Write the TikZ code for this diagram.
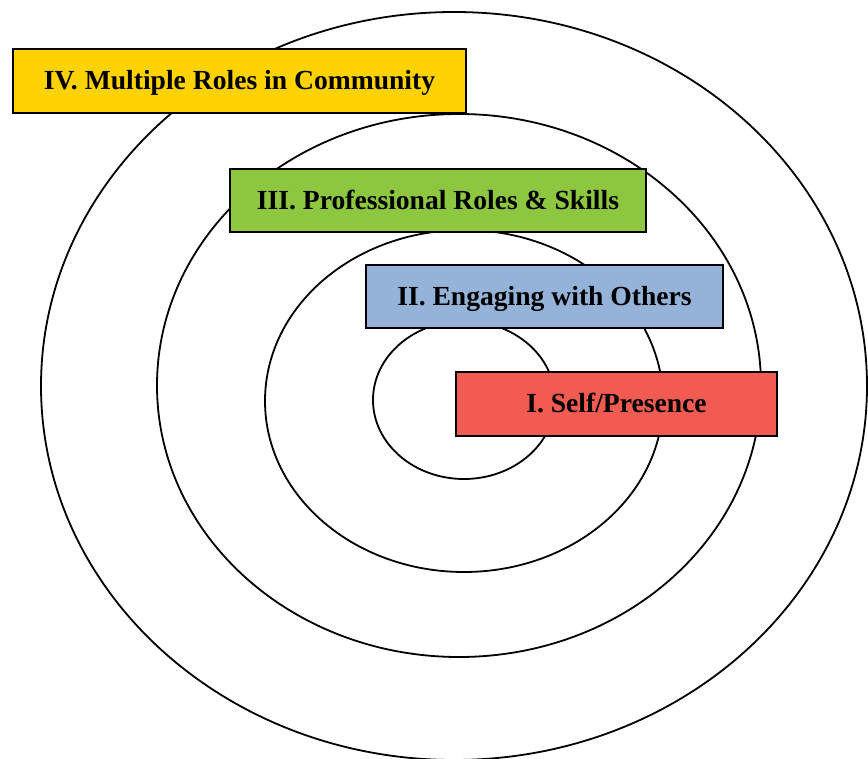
\documentclass[tikz,border=0pt]{standalone}
\usepackage{fontspec}
\setmainfont{Liberation Serif}
\usetikzlibrary{shapes.geometric}
\definecolor{boxyellow}{RGB}{255,210,0}
\definecolor{boxgreen}{RGB}{141,198,63}
\definecolor{boxblue}{RGB}{149,179,217}
\definecolor{boxred}{RGB}{241,91,81}
\tikzset{
  ring/.style={draw=black, line width=1.8pt, ellipse, inner sep=0pt},
  label box/.style={draw=black, line width=2pt, rectangle, inner sep=0pt,
    font=\fontsize{27.6}{32}\selectfont\bfseries, text=black,
    text height=18pt, text depth=0pt}
}
\begin{document}
\begin{tikzpicture}[x=1pt,y=-1pt]
\useasboundingbox (0,0) rectangle (868,759);
% rings
\node[ring, minimum width=826pt, minimum height=748pt] (r4) at (454,386) {};
\node[ring, minimum width=604pt, minimum height=543pt] (r3) at (459,385.5) {};
\node[ring, minimum width=398pt, minimum height=342pt] (r2) at (464,401) {};
\node[ring, minimum width=182pt, minimum height=158pt] (r1) at (464,400) {};
% boxes
\node[label box, fill=boxyellow, minimum width=453pt, minimum height=64pt] (b4) at (239.5,81) {IV. Multiple Roles in Community};
\node[label box, fill=boxgreen, minimum width=416pt, minimum height=63pt] (b3) at (438,200.5) {III. Professional Roles \& Skills};
\node[label box, fill=boxblue, minimum width=357pt, minimum height=63pt] (b2) at (544.5,296.5) {II. Engaging with Others};
\node[label box, fill=boxred, minimum width=321pt, minimum height=64pt] (b1) at (616.5,404) {I. Self/Presence};
\end{tikzpicture}
\end{document}
